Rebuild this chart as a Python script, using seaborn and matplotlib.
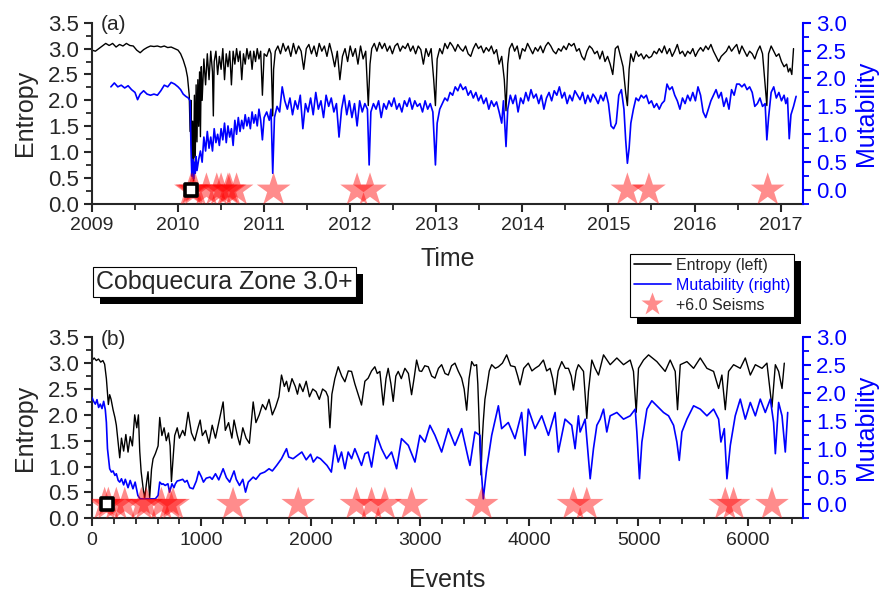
import numpy as np
import seaborn as sns
import matplotlib
matplotlib.use("Agg")
import matplotlib.pyplot as plt
import matplotlib.patheffects as pe
from matplotlib.ticker import MultipleLocator
from matplotlib.lines import Line2D

# ---- panel (a): values against time (decimal years) ----
entropy_time = np.array([
    (2009.00, 2.97), (2009.04, 2.95), (2009.08, 3.00), (2009.12, 3.05), (2009.16, 3.10), (2009.20, 3.06),
    (2009.24, 3.10), (2009.28, 3.03), (2009.32, 3.08), (2009.36, 3.05), (2009.40, 3.10), (2009.44, 3.06),
    (2009.48, 3.05), (2009.52, 2.97), (2009.56, 2.92), (2009.60, 2.98), (2009.64, 3.02), (2009.68, 3.05),
    (2009.72, 3.04), (2009.76, 3.05), (2009.80, 3.03), (2009.84, 3.05), (2009.88, 3.02), (2009.92, 3.03),
    (2009.96, 3.00), (2010.00, 2.97), (2010.03, 2.90), (2010.06, 2.78), (2010.09, 2.62), (2010.11, 2.45),
    (2010.13, 2.10), (2010.14, 1.40), (2010.15, 2.00), (2010.16, 0.60), (2010.17, 1.60), (2010.18, 0.45),
    (2010.19, 2.10), (2010.20, 0.90), (2010.21, 2.30), (2010.22, 1.20), (2010.23, 2.40), (2010.24, 1.50),
    (2010.25, 2.55), (2010.26, 1.30), (2010.27, 2.65), (2010.28, 2.00), (2010.30, 2.80), (2010.32, 2.30),
    (2010.34, 2.90), (2010.36, 2.40), (2010.38, 2.95), (2010.40, 2.55), (2010.41, 1.70), (2010.42, 2.75),
    (2010.44, 2.95), (2010.46, 2.50), (2010.48, 2.85), (2010.50, 2.60), (2010.52, 3.00), (2010.54, 2.40),
    (2010.56, 2.90), (2010.58, 2.65), (2010.60, 2.95), (2010.62, 2.30), (2010.64, 2.95), (2010.66, 2.70),
    (2010.68, 3.00), (2010.70, 2.75), (2010.72, 2.95), (2010.74, 2.40), (2010.76, 2.90), (2010.78, 2.70),
    (2010.80, 3.00), (2010.82, 2.80), (2010.84, 2.95), (2010.86, 2.60), (2010.88, 2.95), (2010.90, 2.75),
    (2010.92, 3.00), (2010.94, 2.80), (2010.96, 2.95), (2010.98, 2.10), (2011.00, 2.90), (2011.03, 2.85),
    (2011.06, 3.00), (2011.08, 2.90), (2011.10, 1.70), (2011.11, 2.60), (2011.13, 2.95), (2011.16, 3.05),
    (2011.19, 2.90), (2011.22, 3.10), (2011.25, 2.95), (2011.28, 3.05), (2011.31, 2.85), (2011.34, 3.10),
    (2011.37, 2.90), (2011.40, 3.05), (2011.43, 2.95), (2011.46, 2.60), (2011.49, 3.00), (2011.52, 3.08),
    (2011.55, 2.90), (2011.58, 3.05), (2011.61, 2.85), (2011.64, 3.10), (2011.67, 2.95), (2011.70, 3.05),
    (2011.73, 2.85), (2011.76, 3.10), (2011.79, 2.90), (2011.82, 2.65), (2011.85, 2.95), (2011.88, 2.40),
    (2011.91, 2.85), (2011.94, 3.00), (2011.97, 2.75), (2012.00, 3.05), (2012.03, 2.85), (2012.06, 3.00),
    (2012.09, 2.70), (2012.12, 3.05), (2012.15, 2.80), (2012.18, 2.95), (2012.21, 1.90), (2012.23, 2.70),
    (2012.25, 3.00), (2012.28, 3.10), (2012.31, 2.95), (2012.34, 3.12), (2012.37, 3.00), (2012.40, 3.10),
    (2012.43, 2.95), (2012.46, 3.05), (2012.49, 2.90), (2012.52, 3.05), (2012.55, 3.10), (2012.58, 2.95),
    (2012.61, 3.05), (2012.64, 3.00), (2012.67, 3.10), (2012.70, 2.95), (2012.73, 3.05), (2012.76, 2.90),
    (2012.79, 3.05), (2012.82, 2.98), (2012.85, 2.70), (2012.88, 3.00), (2012.91, 2.85), (2012.94, 3.00),
    (2012.97, 2.40), (2012.99, 1.90), (2013.01, 2.80), (2013.04, 3.00), (2013.07, 2.90), (2013.10, 3.10),
    (2013.13, 3.00), (2013.16, 3.12), (2013.19, 3.05), (2013.22, 2.95), (2013.25, 3.08), (2013.28, 3.00),
    (2013.31, 2.95), (2013.34, 3.05), (2013.37, 2.90), (2013.40, 2.85), (2013.43, 3.00), (2013.46, 3.10),
    (2013.49, 3.00), (2013.52, 3.05), (2013.55, 2.92), (2013.58, 3.02), (2013.61, 2.95), (2013.64, 3.05),
    (2013.67, 2.90), (2013.70, 2.98), (2013.73, 2.70), (2013.76, 2.85), (2013.79, 2.40), (2013.81, 1.80),
    (2013.83, 2.70), (2013.85, 3.00), (2013.88, 3.10), (2013.91, 2.95), (2013.94, 3.05), (2013.97, 2.80),
    (2014.00, 3.00), (2014.03, 2.95), (2014.06, 3.10), (2014.09, 3.00), (2014.12, 2.90), (2014.15, 3.02),
    (2014.18, 2.95), (2014.21, 3.05), (2014.24, 2.92), (2014.27, 3.05), (2014.30, 3.12), (2014.33, 3.05),
    (2014.36, 2.95), (2014.39, 2.90), (2014.42, 3.00), (2014.45, 2.95), (2014.48, 3.05), (2014.51, 2.98),
    (2014.54, 3.10), (2014.57, 3.05), (2014.60, 3.10), (2014.63, 2.95), (2014.66, 3.00), (2014.69, 2.85),
    (2014.72, 2.78), (2014.75, 2.95), (2014.78, 3.05), (2014.81, 3.00), (2014.84, 2.90), (2014.87, 2.95),
    (2014.90, 2.80), (2014.93, 2.95), (2014.96, 2.75), (2014.99, 2.85), (2015.02, 2.70), (2015.05, 2.50),
    (2015.08, 3.00), (2015.11, 3.05), (2015.14, 2.85), (2015.17, 2.65), (2015.20, 2.15), (2015.22, 1.90),
    (2015.24, 2.60), (2015.26, 2.90), (2015.29, 2.75), (2015.32, 2.95), (2015.35, 2.85), (2015.38, 2.90),
    (2015.41, 2.80), (2015.44, 2.88), (2015.47, 2.82), (2015.50, 2.85), (2015.53, 2.95), (2015.56, 2.90),
    (2015.59, 3.00), (2015.62, 2.92), (2015.65, 3.05), (2015.68, 2.90), (2015.71, 3.00), (2015.74, 2.85),
    (2015.77, 2.95), (2015.80, 3.08), (2015.83, 2.90), (2015.86, 2.95), (2015.89, 2.85), (2015.92, 2.95),
    (2015.95, 2.90), (2015.98, 3.00), (2016.01, 2.85), (2016.04, 2.95), (2016.07, 3.02), (2016.10, 2.95),
    (2016.13, 3.05), (2016.16, 2.98), (2016.19, 3.08), (2016.22, 2.95), (2016.25, 2.85), (2016.28, 2.75),
    (2016.31, 2.85), (2016.34, 2.90), (2016.37, 2.95), (2016.40, 3.05), (2016.43, 2.95), (2016.46, 3.02),
    (2016.49, 3.08), (2016.52, 2.90), (2016.55, 3.05), (2016.58, 2.95), (2016.61, 2.85), (2016.64, 2.95),
    (2016.67, 2.90), (2016.70, 2.80), (2016.73, 2.95), (2016.76, 3.05), (2016.79, 2.90), (2016.82, 2.30),
    (2016.84, 1.90), (2016.86, 2.90), (2016.89, 3.05), (2016.92, 2.95), (2016.95, 2.85), (2016.98, 2.90),
    (2017.01, 2.75), (2017.04, 2.65), (2017.07, 2.70), (2017.09, 2.55), (2017.11, 2.62), (2017.13, 2.50),
    (2017.15, 3.00),
])

mutability_time = np.array([
    (2009.22, 1.85), (2009.26, 1.92), (2009.30, 1.85), (2009.34, 1.88), (2009.38, 1.83), (2009.42, 1.87),
    (2009.46, 1.80), (2009.50, 1.75), (2009.53, 1.62), (2009.56, 1.72), (2009.60, 1.78), (2009.64, 1.72),
    (2009.68, 1.70), (2009.72, 1.72), (2009.76, 1.70), (2009.80, 1.78), (2009.84, 1.88), (2009.88, 1.85),
    (2009.92, 1.93), (2009.96, 1.90), (2010.00, 1.85), (2010.03, 1.80), (2010.06, 1.72), (2010.09, 1.68),
    (2010.12, 1.65), (2010.14, 1.60), (2010.15, 0.80), (2010.16, 0.25), (2010.17, 0.55), (2010.18, 0.20),
    (2010.19, 0.50), (2010.20, 0.30), (2010.21, 0.60), (2010.22, 0.35), (2010.24, 0.55), (2010.26, 0.70),
    (2010.28, 0.50), (2010.30, 0.95), (2010.32, 0.70), (2010.34, 1.05), (2010.36, 0.75), (2010.38, 0.95),
    (2010.40, 0.70), (2010.42, 1.10), (2010.44, 0.85), (2010.46, 1.00), (2010.48, 0.80), (2010.50, 1.10),
    (2010.52, 0.90), (2010.54, 1.20), (2010.56, 0.85), (2010.58, 1.15), (2010.60, 0.95), (2010.62, 1.10),
    (2010.64, 0.80), (2010.66, 1.25), (2010.68, 1.00), (2010.70, 1.30), (2010.72, 1.05), (2010.74, 1.25),
    (2010.76, 1.10), (2010.78, 1.35), (2010.80, 1.15), (2010.82, 1.30), (2010.84, 1.10), (2010.86, 1.40),
    (2010.88, 1.20), (2010.90, 1.35), (2010.92, 1.15), (2010.94, 1.45), (2010.96, 1.25), (2010.98, 0.90),
    (2011.00, 1.30), (2011.03, 1.40), (2011.06, 1.25), (2011.08, 1.45), (2011.10, 0.30), (2011.12, 1.30),
    (2011.15, 1.50), (2011.18, 1.40), (2011.21, 1.85), (2011.24, 1.60), (2011.27, 1.45), (2011.30, 1.65),
    (2011.33, 1.35), (2011.36, 1.60), (2011.39, 1.45), (2011.42, 1.70), (2011.45, 1.10), (2011.48, 1.55),
    (2011.51, 1.40), (2011.54, 1.65), (2011.57, 1.35), (2011.60, 1.75), (2011.63, 1.45), (2011.66, 1.60),
    (2011.69, 1.30), (2011.72, 1.70), (2011.75, 1.50), (2011.78, 1.65), (2011.81, 1.40), (2011.84, 1.55),
    (2011.87, 0.95), (2011.90, 1.45), (2011.93, 1.70), (2011.96, 1.35), (2011.99, 1.60), (2012.02, 1.30),
    (2012.05, 1.55), (2012.08, 1.15), (2012.11, 1.60), (2012.14, 1.40), (2012.17, 1.55), (2012.20, 1.45),
    (2012.22, 0.45), (2012.24, 1.40), (2012.27, 1.55), (2012.30, 1.45), (2012.33, 1.60), (2012.36, 1.30),
    (2012.39, 1.55), (2012.42, 1.45), (2012.45, 1.60), (2012.48, 1.50), (2012.51, 1.65), (2012.54, 1.45),
    (2012.57, 1.55), (2012.60, 1.40), (2012.63, 1.60), (2012.66, 1.50), (2012.69, 1.65), (2012.72, 1.45),
    (2012.75, 1.60), (2012.78, 1.50), (2012.81, 1.55), (2012.84, 1.40), (2012.87, 1.60), (2012.90, 1.45),
    (2012.93, 1.55), (2012.96, 1.40), (2012.99, 0.45), (2013.01, 1.20), (2013.04, 1.45), (2013.07, 1.55),
    (2013.10, 1.65), (2013.13, 1.60), (2013.16, 1.75), (2013.19, 1.70), (2013.22, 1.85), (2013.25, 1.78),
    (2013.28, 1.90), (2013.31, 1.80), (2013.34, 1.85), (2013.37, 1.70), (2013.40, 1.78), (2013.43, 1.65),
    (2013.46, 1.75), (2013.49, 1.60), (2013.52, 1.70), (2013.55, 1.55), (2013.58, 1.65), (2013.61, 1.45),
    (2013.64, 1.60), (2013.67, 1.50), (2013.70, 1.58), (2013.73, 1.40), (2013.76, 1.20), (2013.78, 1.60),
    (2013.81, 0.78), (2013.83, 1.45), (2013.86, 1.70), (2013.89, 1.55), (2013.92, 1.70), (2013.95, 1.40),
    (2013.98, 1.65), (2014.01, 1.55), (2014.04, 1.75), (2014.07, 1.60), (2014.10, 1.80), (2014.13, 1.65),
    (2014.16, 1.72), (2014.19, 1.55), (2014.22, 1.70), (2014.25, 1.45), (2014.28, 1.65), (2014.31, 1.75),
    (2014.34, 1.60), (2014.37, 1.78), (2014.40, 1.70), (2014.43, 1.85), (2014.46, 1.65), (2014.49, 1.75),
    (2014.52, 1.55), (2014.55, 1.70), (2014.58, 1.60), (2014.61, 1.78), (2014.64, 1.70), (2014.67, 1.62),
    (2014.70, 1.75), (2014.73, 1.55), (2014.76, 1.70), (2014.79, 1.58), (2014.82, 1.72), (2014.85, 1.65),
    (2014.88, 1.55), (2014.91, 1.70), (2014.94, 1.60), (2014.97, 1.75), (2015.00, 1.55), (2015.03, 1.15),
    (2015.06, 1.10), (2015.09, 1.20), (2015.12, 1.70), (2015.15, 1.80), (2015.18, 1.45), (2015.20, 0.90),
    (2015.22, 0.48), (2015.24, 0.75), (2015.26, 1.20), (2015.29, 1.45), (2015.32, 1.65), (2015.35, 1.60),
    (2015.38, 1.70), (2015.41, 1.65), (2015.44, 1.70), (2015.47, 1.55), (2015.50, 1.60), (2015.53, 1.48),
    (2015.56, 1.55), (2015.59, 1.45), (2015.62, 1.55), (2015.65, 1.60), (2015.68, 1.90), (2015.71, 1.80),
    (2015.74, 1.85), (2015.77, 1.70), (2015.80, 1.60), (2015.83, 1.45), (2015.86, 1.65), (2015.89, 1.55),
    (2015.92, 1.70), (2015.95, 1.60), (2015.98, 1.75), (2016.01, 1.60), (2016.04, 1.85), (2016.07, 1.70),
    (2016.10, 1.40), (2016.13, 1.30), (2016.16, 1.45), (2016.19, 1.60), (2016.22, 1.70), (2016.25, 1.80),
    (2016.28, 1.65), (2016.31, 1.75), (2016.34, 1.50), (2016.37, 1.65), (2016.40, 1.45), (2016.43, 1.80),
    (2016.46, 1.70), (2016.49, 1.90), (2016.52, 1.90), (2016.55, 1.85), (2016.58, 1.90), (2016.61, 1.80),
    (2016.64, 1.85), (2016.67, 1.75), (2016.70, 1.50), (2016.73, 1.55), (2016.76, 1.65), (2016.79, 1.50),
    (2016.82, 1.55), (2016.84, 0.90), (2016.86, 1.30), (2016.89, 1.75), (2016.92, 1.85), (2016.95, 1.65),
    (2016.98, 1.75), (2017.01, 1.60), (2017.04, 1.70), (2017.06, 1.55), (2017.08, 1.65), (2017.10, 0.92),
    (2017.12, 1.35), (2017.15, 1.50), (2017.18, 1.68),
])

seisms_time = [2010.15, 2010.17, 2010.20, 2010.33, 2010.45, 2010.50, 2010.58, 2010.60, 2010.68,
               2011.11, 2012.08, 2012.23, 2015.22, 2015.47, 2016.85]
start_time = 2010.15

# ---- panel (b): values against event number ----
entropy_events = np.array([
    (0, 3.05), (20, 3.10), (40, 3.05), (60, 3.08), (80, 3.02), (100, 3.05), (116, 2.98), (132, 2.70),
    (150, 2.20), (162, 2.39), (175, 2.30), (193, 2.10), (210, 1.95), (223, 1.80), (240, 1.45), (254, 1.17),
    (270, 1.55), (290, 1.30), (310, 1.62), (330, 1.28), (350, 1.58), (370, 1.40), (391, 2.00), (410, 1.75),
    (425, 2.00), (437, 1.30), (450, 0.90), (470, 0.55), (483, 0.40), (500, 0.70), (513, 0.90), (528, 0.40),
    (545, 0.95), (559, 1.15), (580, 1.25), (605, 1.40), (620, 1.95), (640, 1.60), (660, 1.75), (680, 1.50),
    (700, 1.65), (715, 1.40), (727, 0.71), (745, 1.25), (757, 1.60), (780, 1.75), (800, 1.55), (830, 1.70),
    (850, 1.60), (880, 2.05), (910, 1.65), (940, 1.50), (970, 1.75), (990, 1.90), (1010, 1.60), (1040, 1.70),
    (1070, 1.45), (1100, 1.80), (1130, 1.55), (1160, 1.85), (1200, 2.25), (1220, 1.70), (1250, 1.85),
    (1280, 1.55), (1300, 1.90), (1330, 1.60), (1353, 1.42), (1380, 1.75), (1410, 1.55), (1440, 1.45),
    (1475, 2.25), (1500, 1.85), (1530, 2.00), (1560, 2.20), (1590, 2.10), (1620, 2.30), (1650, 2.00),
    (1680, 2.15), (1710, 2.35), (1734, 2.77), (1760, 2.55), (1780, 2.65), (1800, 2.45), (1830, 2.70),
    (1860, 2.55), (1880, 2.40), (1900, 2.60), (1930, 2.45), (1960, 2.65), (1990, 2.35), (2020, 2.50),
    (2050, 2.45), (2080, 2.30), (2110, 2.50), (2140, 2.45), (2160, 2.35), (2177, 1.75), (2195, 2.40),
    (2222, 2.70), (2253, 2.93), (2285, 2.75), (2314, 2.64), (2345, 2.85), (2375, 2.84), (2405, 2.60),
    (2436, 2.39), (2466, 2.19), (2497, 2.65), (2527, 2.71), (2558, 2.85), (2588, 2.93), (2610, 2.80),
    (2634, 2.84), (2665, 2.19), (2690, 2.70), (2710, 2.90), (2735, 2.60), (2756, 2.26), (2780, 2.75),
    (2802, 2.84), (2830, 2.70), (2863, 2.90), (2895, 2.80), (2924, 2.39), (2950, 2.75), (2970, 3.06),
    (2995, 2.85), (3016, 2.84), (3045, 2.95), (3077, 2.93), (3108, 2.75), (3138, 2.71), (3170, 2.90),
    (3199, 2.97), (3230, 2.80), (3260, 2.77), (3290, 2.95), (3321, 3.00), (3350, 2.85), (3382, 2.71),
    (3405, 2.50), (3428, 2.09), (3450, 2.70), (3474, 3.03), (3497, 2.95), (3519, 2.97), (3530, 2.60),
    (3541, 1.93), (3552, 1.20), (3559, 0.84), (3570, 1.50), (3580, 1.87), (3595, 2.30), (3611, 2.51),
    (3635, 2.85), (3657, 2.97), (3690, 2.90), (3718, 2.93), (3755, 3.00), (3794, 3.16), (3830, 2.95),
    (3870, 2.93), (3895, 2.75), (3916, 2.58), (3950, 2.90), (3992, 3.00), (4025, 2.85), (4054, 2.90),
    (4090, 2.95), (4130, 3.06), (4160, 2.85), (4191, 2.90), (4215, 2.70), (4237, 2.39), (4265, 2.85),
    (4298, 3.03), (4330, 2.90), (4359, 2.90), (4385, 2.75), (4405, 2.48), (4430, 2.85), (4450, 2.97),
    (4466, 2.93), (4497, 2.84), (4527, 1.93), (4542, 2.45), (4573, 3.06), (4603, 2.90), (4634, 2.77),
    (4680, 3.16), (4741, 2.97), (4802, 3.10), (4863, 2.97), (4924, 3.06), (4954, 2.84), (4979, 2.05),
    (5000, 2.90), (5046, 3.06), (5092, 3.16), (5168, 3.03), (5244, 2.84), (5290, 3.06), (5336, 2.84),
    (5357, 2.10), (5382, 2.97), (5443, 3.03), (5504, 2.90), (5565, 3.10), (5626, 2.90), (5687, 2.84),
    (5733, 2.51), (5763, 2.77), (5794, 2.10), (5824, 2.84), (5870, 2.97), (5931, 2.90), (5977, 3.10),
    (6023, 2.77), (6069, 2.97), (6130, 2.90), (6175, 3.00), (6221, 2.15), (6252, 2.97), (6282, 2.84),
    (6313, 2.51), (6334, 3.00),
])

mutability_events = np.array([
    (0, 1.92), (15, 1.85), (31, 1.80), (46, 1.88), (61, 1.74), (76, 1.80), (92, 1.72), (107, 1.85),
    (122, 1.70), (132, 1.47), (142, 1.00), (162, 0.64), (178, 0.58), (193, 0.60), (210, 0.52), (223, 0.55),
    (240, 0.43), (254, 0.40), (270, 0.46), (290, 0.35), (305, 0.45), (330, 0.30), (350, 0.43), (375, 0.28),
    (395, 0.40), (420, 0.16), (440, 0.10), (480, 0.10), (520, 0.10), (560, 0.10), (580, 0.10), (605, 0.16),
    (620, 0.40), (640, 0.36), (650, 0.37), (670, 0.34), (695, 0.37), (710, 0.22), (732, 0.37), (750, 0.30),
    (763, 0.37), (780, 0.42), (800, 0.43), (830, 0.45), (850, 0.40), (870, 0.43), (895, 0.30), (925, 0.28),
    (955, 0.42), (977, 0.59), (1000, 0.50), (1020, 0.40), (1045, 0.47), (1080, 0.49), (1100, 0.45),
    (1130, 0.55), (1160, 0.44), (1200, 0.64), (1230, 0.48), (1260, 0.40), (1300, 0.60), (1320, 0.45),
    (1350, 0.34), (1380, 0.45), (1405, 0.22), (1430, 0.40), (1475, 0.49), (1500, 0.45), (1540, 0.55),
    (1580, 0.58), (1620, 0.64), (1650, 0.60), (1690, 0.70), (1734, 0.82), (1780, 1.00), (1800, 0.85),
    (1840, 0.82), (1880, 0.88), (1920, 0.94), (1960, 0.80), (2000, 0.90), (2025, 0.76), (2060, 0.85),
    (2090, 0.82), (2120, 0.76), (2150, 0.70), (2190, 0.58), (2222, 1.06), (2253, 0.76), (2283, 0.94),
    (2314, 0.64), (2344, 0.94), (2375, 0.82), (2405, 1.00), (2436, 0.85), (2466, 0.70), (2497, 0.91),
    (2527, 0.94), (2558, 0.67), (2604, 1.24), (2649, 1.00), (2695, 0.82), (2741, 0.94), (2787, 0.64),
    (2832, 1.18), (2894, 1.06), (2955, 0.76), (3000, 1.24), (3046, 1.12), (3092, 1.42), (3138, 1.24),
    (3199, 0.94), (3260, 1.36), (3321, 1.06), (3382, 1.36), (3443, 0.82), (3458, 0.70), (3504, 1.30),
    (3550, 1.24), (3565, 0.52), (3580, 0.10), (3611, 0.64), (3657, 1.24), (3718, 1.77), (3748, 1.36),
    (3809, 1.47), (3870, 1.18), (3931, 1.65), (3962, 0.88), (3992, 1.71), (4054, 1.36), (4115, 1.59),
    (4176, 1.24), (4237, 1.65), (4267, 0.94), (4328, 1.53), (4389, 1.42), (4420, 1.00), (4450, 1.59),
    (4466, 1.30), (4512, 1.53), (4542, 0.82), (4558, 0.46), (4588, 1.00), (4619, 1.42), (4649, 1.53),
    (4680, 1.71), (4710, 1.30), (4741, 1.59), (4802, 1.65), (4863, 1.53), (4924, 1.59), (4970, 1.71),
    (4985, 1.30), (5009, 0.46), (5031, 1.12), (5077, 1.71), (5122, 1.86), (5168, 1.77), (5229, 1.65),
    (5275, 1.59), (5321, 1.42), (5351, 1.12), (5373, 0.79), (5397, 1.30), (5443, 1.53), (5504, 1.77),
    (5565, 1.71), (5626, 1.59), (5687, 1.71), (5733, 1.53), (5754, 1.12), (5785, 1.36), (5809, 0.46),
    (5840, 1.06), (5885, 1.59), (5931, 1.89), (5977, 1.53), (6023, 1.83), (6069, 1.59), (6114, 1.89),
    (6160, 1.65), (6206, 1.89), (6236, 1.47), (6252, 0.91), (6282, 1.83), (6313, 1.59), (6343, 0.94),
    (6365, 1.65),
])

seisms_events = [116, 150, 223, 300, 452, 498, 635, 712, 742, 1291, 1887, 2420, 2558, 2680, 2924,
                 3565, 4405, 4527, 5794, 5870, 6221]
start_event = 137

sns.set_style("ticks")
plt.rcParams["font.family"] = ["Liberation Sans", "DejaVu Sans"]

BLUE = "#0000ff"
fig = plt.figure(figsize=(8.8, 5.91), dpi=100)


def panel(rect, ent, mut, seisms, start, xlim, xmaj, xmin, xlabel, xpad, tag):
    ax = fig.add_axes(rect)
    ax2 = ax.twinx()
    sns.lineplot(x=ent[:, 0], y=ent[:, 1], ax=ax, color="black", lw=1.0,
                 estimator=None, sort=False)
    sns.lineplot(x=mut[:, 0], y=mut[:, 1], ax=ax2, color=BLUE, lw=1.2,
                 estimator=None, sort=False)
    sns.scatterplot(x=seisms, y=np.zeros(len(seisms)), ax=ax2, marker="*", s=650,
                    color="red", alpha=0.45, edgecolor="none", zorder=5)
    sns.scatterplot(x=[start], y=[0.0], ax=ax2, marker="s", s=85, color="white",
                    edgecolor="black", linewidth=2.6, zorder=6)

    ax.set_xlim(*xlim)
    ax.set_ylim(0, 3.5)
    ax2.set_ylim(-0.25, 3.0)
    ax.xaxis.set_major_locator(MultipleLocator(xmaj))
    ax.xaxis.set_minor_locator(MultipleLocator(xmin))
    for a in (ax, ax2):
        a.yaxis.set_major_locator(MultipleLocator(0.5))
        a.yaxis.set_minor_locator(MultipleLocator(0.25))
        a.tick_params(which="major", length=6, width=1.5, labelsize=14)
        a.tick_params(which="minor", length=4, width=1.3)
        a.tick_params(axis="y", labelsize=16)
    ax.spines["top"].set_visible(False)
    ax.spines["right"].set_visible(False)
    for s in ("top", "left", "bottom"):
        ax2.spines[s].set_visible(False)
    for s in ("left", "bottom"):
        ax.spines[s].set_linewidth(1.5)
    ax2.spines["right"].set_linewidth(1.5)
    ax2.spines["right"].set_color(BLUE)
    ax2.tick_params(axis="y", which="both", colors=BLUE)

    ax.set_xlabel(xlabel, fontsize=18, labelpad=xpad)
    ax.set_ylabel("Entropy", fontsize=18, labelpad=8)
    ax2.set_ylabel("Mutability", fontsize=18, color=BLUE, labelpad=5)
    ax.text(0.013, 0.99, tag, transform=ax.transAxes, fontsize=15,
            ha="left", va="center")
    return ax, ax2


panel([0.1045, 0.6548, 0.808, 0.3068], entropy_time, mutability_time, seisms_time,
      start_time, (2009, 2017.26), 1, 0.5, "Time", 9, "(a)")
panel([0.1045, 0.123, 0.808, 0.3063], entropy_events, mutability_events, seisms_events,
      start_event, (0, 6505), 1000, 200, "Events", 14, "(b)")

shadow = [pe.SimplePatchShadow(offset=(5, -5), shadow_rgbFace="black", alpha=1), pe.Normal()]

title = fig.text(96 / 880, 1 - 282 / 591, "Cobquecura Zone 3.0+", fontsize=18,
                 ha="left", va="center",
                 bbox=dict(boxstyle="square,pad=0.12", fc="white", ec="black", lw=0.8))
title.get_bbox_patch().set_path_effects(shadow)

handles = [
    Line2D([], [], color="black", lw=1.2),
    Line2D([], [], color=BLUE, lw=1.2),
    Line2D([], [], color="red", alpha=0.45, marker="*", ms=17, ls="none", mec="none"),
]
leg = fig.legend(handles, ["Entropy (left)", "Mutability (right)", "+6.0 Seisms"],
                 loc="upper left", bbox_to_anchor=(630 / 880, 1 - 254 / 591),
                 fontsize=11.5, frameon=True, fancybox=False, edgecolor="black",
                 framealpha=1, borderpad=0.25, labelspacing=0.3, handlelength=2.3,
                 handletextpad=0.3, borderaxespad=0)
leg.get_frame().set_linewidth(0.8)
leg.get_frame().set_path_effects(shadow)
leg.get_texts()[1].set_color(BLUE)

fig.savefig("out.png", dpi=100)
